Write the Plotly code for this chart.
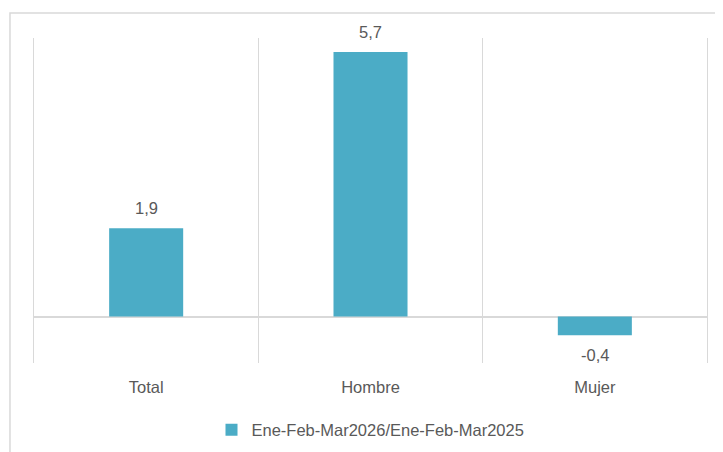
import plotly.graph_objects as go

categories = ["Total", "Hombre", "Mujer"]
values = [1.9, 5.7, -0.4]
series_name = "Ene-Feb-Mar2026/Ene-Feb-Mar2025"

bar_color = "#4BACC6"
text_color = "#595959"
grid_color = "#D9D9D9"
font_family = "Liberation Sans Narrow, Arial Narrow, Liberation Sans, Arial, sans-serif"
font_size = 16.5

positions = list(range(len(categories)))

fig = go.Figure()
fig.add_trace(go.Bar(
    x=positions, y=values, name=series_name,
    marker=dict(color=bar_color, line=dict(width=0)),
    width=0.33,
    showlegend=True,
))

# data labels, Excel style: a bit away from the bar end
for p, v in zip(positions, values):
    fig.add_annotation(
        x=p, y=v, text=f"{v:.1f}".replace(".", ","),
        showarrow=False, yanchor="middle",
        yshift=20 if v >= 0 else -20,
        font=dict(size=font_size, color=text_color),
    )

fig.update_layout(
    width=723, height=452,
    margin=dict(l=26, r=24, t=30, b=97),
    paper_bgcolor="white", plot_bgcolor="white",
    separators=",.",
    font=dict(family=font_family, size=font_size, color=text_color),
    showlegend=True,
    legend=dict(orientation="h", x=0.5, xanchor="center", y=-0.206, yanchor="middle",
                font=dict(size=font_size, color=text_color), itemwidth=30),
    xaxis=dict(
        range=[-0.5, len(categories) - 0.5],
        tickvals=positions, ticktext=categories,
        showgrid=False, zeroline=False, ticks="", ticklabelstandoff=12,
        minor=dict(showgrid=True, tick0=-0.5, dtick=1, gridcolor=grid_color, gridwidth=1.3),
    ),
    yaxis=dict(
        range=[-1, 6], showticklabels=False, showgrid=False,
        zeroline=True, zerolinecolor=grid_color, zerolinewidth=1.5,
        showline=True, mirror=True, linecolor=grid_color, linewidth=1.3,
    ),
    shapes=[dict(type="rect", xref="paper", yref="paper",
                 x0=-0.0357, x1=1.2, y0=-0.5, y1=1.077,
                 line=dict(color=grid_color, width=1.5), layer="below")],
)

fig.write_html("out.html")
